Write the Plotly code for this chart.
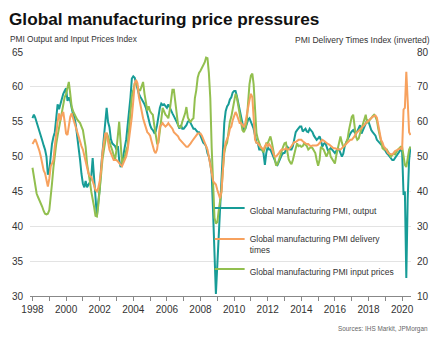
import pandas as pd
import plotly.graph_objects as go

# Global Manufacturing PMI, output (left axis), monthly Jan 1998 - Jul 2020
output_pmi = [
    55.5, 56.0, 55.6, 55.0, 54.2, 53.5, 53.0, 52.3, 51.6, 51.0, 50.0, 47.4,  # 1998
    48.0, 50.5, 51.8, 52.8, 53.5, 55.5, 57.5, 56.8, 57.5, 58.5, 59.0, 59.4,  # 1999
    59.8, 58.0, 58.5, 58.0, 57.0, 56.0, 55.6, 54.5, 52.8, 51.5, 49.5, 47.5,  # 2000
    46.1, 45.6, 46.5, 45.6, 46.0, 46.3, 47.0, 49.8, 47.0, 44.0, 41.4, 43.5,  # 2001
    45.3, 48.5, 50.5, 53.0, 55.5, 57.0, 55.0, 54.2, 52.5, 51.9, 51.7, 51.5,  # 2002
    51.0, 51.5, 49.5, 48.5, 49.0, 50.5, 51.4, 52.5, 54.5, 55.7, 58.5, 61.2,  # 2003
    61.5, 61.3, 60.5, 60.0, 59.0, 58.6, 58.3, 58.0, 57.5, 57.0, 56.0, 55.0,  # 2004
    54.5, 54.0, 53.8, 53.4, 53.6, 54.5, 56.0, 57.0, 57.6, 57.4, 57.5, 57.2,  # 2005
    57.0, 57.5, 57.0, 56.5, 56.2, 55.8, 55.5, 55.0, 54.5, 54.0, 54.5, 54.0,  # 2006
    54.0, 54.2, 54.5, 55.0, 55.2, 54.8, 54.5, 54.0, 54.0, 53.8, 53.5, 53.5,  # 2007
    53.0, 52.3, 52.0, 51.8, 51.5, 50.5, 50.0, 49.0, 47.5, 42.0, 36.0, 30.3,  # 2008
    34.5, 38.5, 42.5, 46.5, 50.5, 54.8, 56.5, 57.2, 57.5, 58.2, 58.5, 59.2,  # 2009
    59.4, 59.4, 58.7, 57.7, 56.5, 55.5, 54.5, 53.8, 54.0, 54.8, 55.3, 55.5,  # 2010
    55.0, 54.5, 54.0, 53.0, 52.0, 51.9, 51.0, 51.0, 51.0, 50.5, 48.8, 50.5,  # 2011
    51.4, 51.0, 51.0, 50.5, 50.0, 49.6, 49.0, 48.8, 49.3, 49.8, 50.2, 50.5,  # 2012
    50.5, 51.0, 51.4, 51.2, 51.0, 51.0, 51.5, 52.5, 53.5, 53.8, 54.0, 54.3,  # 2013
    54.3, 53.6, 53.8, 54.0, 53.6, 53.5, 54.0, 53.8, 53.5, 53.0, 52.6, 52.4,  # 2014
    52.6, 52.9, 52.4, 51.4, 51.8, 52.0, 51.5, 50.9, 51.0, 51.2, 51.0, 50.8,  # 2015
    50.5, 50.8, 51.0, 51.0, 50.5, 50.0, 50.4, 51.5, 52.0, 52.5, 52.9, 53.3,  # 2016
    53.6, 53.8, 53.5, 53.3, 53.6, 54.0, 54.5, 53.3, 53.8, 54.5, 54.8, 55.2,  # 2017
    55.0, 54.2, 53.8, 53.5, 53.3, 53.0, 52.4, 52.2, 52.0, 51.8, 51.5, 51.2,  # 2018
    50.8, 50.5, 50.3, 50.0, 49.8, 49.5, 49.5, 49.8, 50.2, 50.4, 50.7, 51.0,  # 2019
    50.8, 44.5, 45.0, 32.6, 44.0, 49.5, 51.4,                                # 2020
]

# Global manufacturing PMI delivery times, inverted (right axis)
delivery_inv = [
    53.6, 54.4, 55.0, 54.0, 53.0, 51.6, 50.0, 48.0, 46.0, 45.2, 43.0, 41.4,  # 1998
    43.6, 47.2, 48.0, 49.0, 53.0, 57.6, 60.0, 62.4, 60.4, 62.0, 62.8, 60.0,  # 1999
    56.6, 56.2, 59.0, 61.4, 62.4, 61.0, 59.6, 58.0, 57.0, 55.8, 54.0, 53.0,  # 2000
    52.0, 50.0, 48.2, 47.0, 45.2, 44.4, 44.2, 43.0, 41.2, 40.4, 40.0, 41.0,  # 2001
    43.0, 46.0, 51.0, 54.0, 56.6, 56.6, 54.0, 52.0, 51.0, 50.0, 49.0, 49.0,  # 2002
    49.0, 48.6, 48.0, 47.6, 47.2, 48.0, 49.0, 50.0, 52.0, 54.8, 58.0, 61.4,  # 2003
    66.0, 71.0, 72.0, 71.0, 67.2, 65.0, 62.4, 61.0, 59.6, 58.0, 57.0, 56.6,  # 2004
    56.0, 54.4, 52.8, 51.6, 51.0, 52.0, 55.0, 58.6, 59.0, 59.6, 59.0, 58.6,  # 2005
    59.0, 59.6, 59.0, 58.6, 58.0, 57.0, 56.6, 56.0, 55.8, 55.0, 54.6, 54.0,  # 2006
    53.8, 53.2, 52.8, 52.8, 53.2, 53.8, 54.4, 55.0, 55.8, 56.0, 56.6, 56.6,  # 2007
    56.6, 56.0, 55.0, 54.0, 53.0, 52.0, 50.0, 47.2, 45.0, 43.0, 42.4, 42.0,  # 2008
    40.4, 39.0, 38.0, 40.0, 45.0, 52.0, 54.0, 54.8, 56.0, 58.0, 58.6, 60.4,  # 2009
    61.4, 62.8, 62.0, 60.4, 59.6, 59.6, 59.0, 58.6, 59.6, 61.4, 64.0, 66.2,  # 2010
    68.0, 67.0, 62.0, 54.8, 54.0, 53.8, 53.2, 52.8, 52.4, 52.0, 53.0, 53.6,  # 2011
    53.0, 53.6, 53.0, 52.4, 51.0, 50.0, 50.0, 50.4, 51.0, 51.6, 52.0, 52.0,  # 2012
    52.0, 52.4, 52.0, 52.0, 52.4, 53.0, 53.6, 54.2, 54.2, 54.6, 54.8, 54.8,  # 2013
    54.8, 54.4, 54.0, 53.8, 53.6, 53.6, 53.2, 53.0, 53.2, 53.2, 53.0, 53.2,  # 2014
    53.4, 53.8, 54.4, 54.8, 54.6, 54.2, 53.8, 53.6, 53.4, 53.0, 52.6, 52.4,  # 2015
    52.4, 52.2, 52.0, 52.0, 52.0, 52.4, 52.8, 53.2, 53.6, 54.0, 54.4, 54.8,  # 2016
    54.8, 55.2, 55.8, 56.6, 57.0, 57.2, 57.6, 58.0, 58.6, 59.0, 59.6, 60.0,  # 2017
    60.2, 60.6, 61.0, 61.4, 61.6, 61.8, 61.2, 58.6, 57.0, 54.8, 54.0, 52.8,  # 2018
    52.4, 51.6, 51.0, 50.8, 50.6, 50.6, 51.0, 51.6, 51.8, 52.0, 52.2, 52.4,  # 2019
    52.0, 63.5, 64.0, 74.3, 66.0, 57.0, 56.2,                                # 2020
]

# Global manufacturing PMI input prices (left axis)
input_prices = [
    48.4, 47.0, 45.6, 44.7, 44.2, 43.8, 43.2, 42.8, 42.2, 41.8, 41.7, 41.8,  # 1998
    42.3, 44.0, 46.1, 48.4, 50.5, 51.8, 53.0, 54.2, 55.5, 56.6, 57.5, 58.5,  # 1999
    59.0, 60.0, 60.7, 59.0, 57.2, 56.5, 56.0, 55.7, 55.3, 55.0, 54.8, 54.3,  # 2000
    53.8, 52.5, 51.4, 49.0, 48.0, 46.5, 45.0, 44.0, 42.8, 41.5, 41.4, 43.0,  # 2001
    45.5, 47.6, 49.5, 50.9, 52.5, 53.4, 52.9, 52.0, 51.5, 50.9, 50.0, 49.5,  # 2002
    51.0, 53.8, 55.0, 52.0, 49.0, 49.5, 50.0, 50.9, 51.5, 54.0, 56.9, 58.6,  # 2003
    59.5, 60.5, 60.7, 60.0, 59.5, 59.5, 60.2, 60.7, 59.0, 57.5, 56.6, 57.2,  # 2004
    56.5, 56.2, 56.0, 54.5, 53.3, 51.9, 52.0, 53.5, 55.5, 57.0, 56.5, 56.0,  # 2005
    55.8, 55.5, 56.5, 58.0, 59.6, 59.6, 58.0, 55.7, 54.5, 54.2, 54.2, 55.0,  # 2006
    55.5, 56.2, 57.1, 55.6, 55.2, 55.0, 55.3, 55.5, 58.4, 59.5, 61.3, 62.0,  # 2007
    62.3, 62.7, 63.0, 63.5, 64.2, 64.1, 62.0, 58.4, 51.2, 45.5, 41.2, 40.4,  # 2008
    40.6, 42.3, 44.0, 45.0, 48.0, 50.5, 51.5, 52.0, 53.5, 55.0, 55.7, 57.0,  # 2009
    58.1, 59.0, 58.5, 57.2, 55.7, 54.5, 53.8, 53.5, 54.0, 55.0, 58.1, 60.4,  # 2010
    61.6, 61.9, 60.4, 57.2, 53.4, 52.5, 51.9, 51.4, 51.0, 50.6, 51.2, 51.9,  # 2011
    51.9, 52.5, 52.9, 52.0, 51.0, 49.5, 48.7, 48.9, 49.6, 50.2, 51.0, 51.4,  # 2012
    51.9, 52.0, 50.8, 49.6, 49.2, 48.9, 49.5, 50.5, 51.2, 51.9, 51.5, 51.6,  # 2013
    51.4, 51.5, 51.9, 51.7, 51.5, 51.0, 51.2, 51.4, 51.2, 50.8, 50.5, 49.5,  # 2014
    48.7, 49.5, 51.4, 51.2, 51.0, 50.5, 50.0, 50.5, 51.0, 50.0, 49.6, 49.2,  # 2015
    49.0, 50.2, 51.0, 52.0, 52.9, 52.0, 51.4, 51.5, 51.9, 52.5, 53.8, 55.0,  # 2016
    55.7, 56.0, 54.5, 52.9, 52.4, 52.6, 53.3, 54.0, 55.0, 55.5, 56.0, 54.8,  # 2017
    55.0, 55.2, 55.5, 55.8, 56.0, 55.7, 55.2, 54.0, 52.9, 52.0, 51.2, 51.0,  # 2018
    51.0, 51.0, 50.7, 50.3, 50.0, 50.2, 50.5, 50.3, 50.8, 51.0, 51.2, 51.4,  # 2019
    51.4, 50.0, 48.8, 48.5, 49.5, 51.0, 51.4,                                # 2020
]

series_names = [
    "Global Manufacturing PMI, output",
    "Global manufacturing PMI delivery<br>times",
    "Global manufacturing PMI input prices",
]
left_ticks = [30, 35, 40, 45, 50, 55, 60, 65]
right_ticks = [10, 20, 30, 40, 50, 60, 70, 80]

dates = pd.date_range("1998-01-01", periods=len(output_pmi), freq="MS")

TEAL = "#179c97"
ORANGE = "#f7a15e"
GREEN = "#92bf4f"
FONT = "Arial, Liberation Sans, sans-serif"

# plot-area geometry (pixels)
W, H = 445, 346
L, R, T, B = 25, 34, 52, 50
PW, PH = W - L - R, H - T - B


def px(x):
    return (x - L) / PW


def py(y):
    return (H - B - y) / PH


fig = go.Figure()
fig.add_trace(go.Scatter(x=dates, y=output_pmi, name=series_names[0], mode="lines",
                         line=dict(color=TEAL, width=2), legend="legend"))
fig.add_trace(go.Scatter(x=dates, y=delivery_inv, name=series_names[1], mode="lines",
                         line=dict(color=ORANGE, width=2), yaxis="y2", legend="legend2"))
fig.add_trace(go.Scatter(x=dates, y=input_prices, name=series_names[2], mode="lines",
                         line=dict(color=GREEN, width=2), legend="legend3"))

leg_common = dict(xanchor="left", yanchor="top", bgcolor="rgba(0,0,0,0)",
                  font=dict(size=8.5, color="#333333"), itemwidth=30, valign="top")

fig.update_layout(
    width=W, height=H,
    margin=dict(l=L, r=R, t=T, b=B, pad=0),
    paper_bgcolor="white", plot_bgcolor="white",
    font=dict(family=FONT, size=10, color="#333333"),
    showlegend=True,
    legend=dict(x=px(207), y=py(196), **leg_common),
    legend2=dict(x=px(207), y=py(227), **leg_common),
    legend3=dict(x=px(207), y=py(257), **leg_common),
    xaxis=dict(type="date", range=["1997-11-08", "2020-07-12"],
               tick0="1998-01-01", dtick="M24", tickformat="%Y",
               ticks="outside", ticklen=4, tickcolor="#888888",
               showline=True, linecolor="#888888", linewidth=1,
               showgrid=False, zeroline=False,
               tickfont=dict(size=10, color="#333333"),
               minor=dict(dtick="M12", tick0="1998-01-01", ticks="outside",
                          ticklen=4, tickcolor="#888888", showgrid=False)),
    yaxis=dict(range=[30, 65], tickvals=left_ticks, showgrid=True,
               gridcolor="#e3e3e3", gridwidth=1, zeroline=False, showline=False,
               ticks="", ticklabelstandoff=6, tickfont=dict(size=10, color="#333333")),
    yaxis2=dict(range=[10, 80], tickvals=right_ticks, overlaying="y", side="right",
                showgrid=False, zeroline=False, showline=False, ticks="",
                ticklabelstandoff=5, tickfont=dict(size=10, color="#333333")),
    annotations=[
        dict(text="<b>Global manufacturing price pressures</b>", x=px(2), y=py(19),
             xref="paper", yref="paper", xanchor="left", yanchor="middle",
             showarrow=False, font=dict(size=17.2, color="#111111")),
        dict(text="PMI Output and Input Prices Index", x=px(3), y=py(39.5),
             xref="paper", yref="paper", xanchor="left", yanchor="middle",
             showarrow=False, font=dict(size=8.3, color="#333333")),
        dict(text="PMI Delivery Times Index (inverted)", x=px(432), y=py(40),
             xref="paper", yref="paper", xanchor="right", yanchor="middle",
             showarrow=False, font=dict(size=8.5, color="#333333")),
        dict(text="Sources: IHS Markit, JPMorgan", x=px(430), y=py(329),
             xref="paper", yref="paper", xanchor="right", yanchor="middle",
             showarrow=False, font=dict(size=6.4, color="#666666")),
    ],
)

fig.write_html("out.html")
